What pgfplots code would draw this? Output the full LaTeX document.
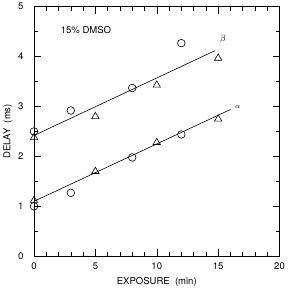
\documentclass[border=0pt]{standalone}
\usepackage{fontspec}
\setmainfont{TeX Gyre Heros}
\usepackage{pgfplots}
\pgfplotsset{compat=1.18}
\begin{document}
\begin{tikzpicture}[x=1pt,y=1pt]
\begin{axis}[
  scale only axis, width=245pt, height=249pt,
  xmin=0, xmax=20, ymin=0, ymax=5,
  xtick={0,5,10,15,20}, ytick={0,1,2,3,4,5},
  minor x tick num=4, minor y tick num=1,
  tick align=inside,
  major tick length=7pt, minor tick length=4pt,
  tick style={black, line width=0.5pt},
  axis line style={line width=0.6pt},
  /pgf/number format/assume math mode=true,
  ticklabel style={font=\fontsize{9.5}{11}\selectfont},
  xticklabel style={yshift=-3pt},
  yticklabel style={xshift=-7pt},
  label style={font=\fontsize{9.5}{11}\selectfont},
  xlabel={EXPOSURE\ \ (min)},
  ylabel={DELAY\ \ (ms)},
  xlabel style={yshift=-1pt},
  ylabel style={yshift=-1pt},
  clip=false,
]
\addplot[only marks, mark=o, mark size=3.8pt, line width=0.6pt] coordinates {
 (0,2.5) (3,2.92) (8,3.37) (12,4.27)
 (0,1.0) (3,1.27) (8,1.98) (12,2.44)};
\addplot[only marks, mark=triangle, mark size=4.2pt, line width=0.6pt] coordinates {
 (0,2.38) (5,2.8) (10,3.43) (15,3.97)
 (0,1.12) (5,1.7) (10,2.28) (15,2.75)};
\addplot[line width=0.6pt] coordinates {(0,2.42) (14.75,4.12)};
\addplot[line width=0.6pt] coordinates {(0,1.1) (16,2.94)};
\node[font=\fontsize{9.5}{11}\selectfont, anchor=west] at (axis cs:1.9,4.54) {15\% DMSO};
\node[font=\fontsize{9.5}{11}\selectfont] at (axis cs:15.4,4.34) {$\beta$};
\node[font=\fontsize{7}{8}\selectfont] at (axis cs:16.6,3.0) {$\alpha$};
\end{axis}
\end{tikzpicture}
\end{document}
